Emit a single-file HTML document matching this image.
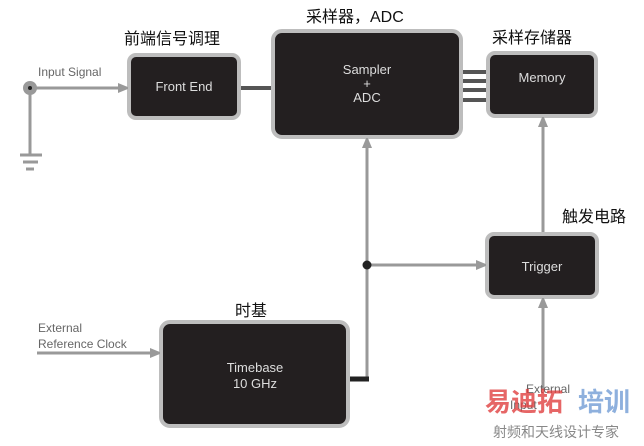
<!DOCTYPE html>
<html><head><meta charset="utf-8"><style>
body{margin:0;background:#fff;width:644px;height:441px;overflow:hidden}
svg text{font-family:"Liberation Sans","Noto Sans CJK SC",sans-serif}
</style></head><body>
<svg width="644" height="441" viewBox="0 0 644 441" xmlns="http://www.w3.org/2000/svg">
<defs><marker id="a" markerWidth="10" markerHeight="10" refX="9" refY="5" orient="auto" markerUnits="userSpaceOnUse"><path d="M0,0 L12,5 L0,10 z" fill="#999"/></marker></defs>
<g fill="#231f20" stroke="#bdbdbd" stroke-width="4">
<rect x="129" y="55" width="110" height="63" rx="7"/>
<rect x="273" y="31" width="188" height="106" rx="9"/>
<rect x="488" y="53" width="108" height="63" rx="7"/>
<rect x="487" y="234" width="110" height="63" rx="7"/>
<rect x="161" y="322" width="187" height="104" rx="9"/>
</g>
<g stroke="#555" stroke-width="4">
<line x1="241" y1="88" x2="271" y2="88"/>
<line x1="463" y1="72" x2="486" y2="72"/><line x1="463" y1="81" x2="486" y2="81"/>
<line x1="463" y1="90" x2="486" y2="90"/><line x1="463" y1="100" x2="486" y2="100"/>
</g>
<g stroke="#999" stroke-width="3" fill="none">
<line x1="30" y1="88" x2="127" y2="88" marker-end="url(#a)"/>
<line x1="30" y1="88" x2="30" y2="155"/>
<line x1="20" y1="155" x2="42" y2="155"/><line x1="23" y1="162" x2="38" y2="162"/><line x1="26" y1="169" x2="34" y2="169"/>
<line x1="367" y1="379" x2="367" y2="139" marker-end="url(#a)"/>
<line x1="367" y1="265" x2="485" y2="265" marker-end="url(#a)"/>
<line x1="37" y1="353" x2="159" y2="353" marker-end="url(#a)"/>
<line x1="543" y1="390" x2="543" y2="299" marker-end="url(#a)"/>
<line x1="543" y1="232" x2="543" y2="118" marker-end="url(#a)"/>
</g>
<line x1="350" y1="379" x2="369" y2="379" stroke="#222" stroke-width="5"/>
<circle cx="30" cy="88" r="7" fill="#999"/><circle cx="30" cy="88" r="2" fill="#222"/>
<circle cx="367" cy="265" r="4.5" fill="#222"/>
<g fill="#ddd" font-size="13" text-anchor="middle">
<text x="184" y="91">Front End</text>
<text x="367" y="74">Sampler</text><text x="367" y="88">+</text><text x="367" y="102">ADC</text>
<text x="542" y="82">Memory</text>
<text x="542" y="271">Trigger</text>
<text x="255" y="372">Timebase</text><text x="255" y="388">10 GHz</text>
</g>
<g fill="#666" font-size="12">
<text x="38" y="76">Input Signal</text>
<text x="38" y="332">External</text><text x="38" y="348">Reference Clock</text>
<text x="526" y="393">External</text><text x="510" y="409">Input</text>
</g>
<g fill="#111" font-size="16">
<text x="124" y="44">前端信号调理</text>
<text x="306" y="22">采样器，ADC</text>
<text x="492" y="43">采样存储器</text>
<text x="562" y="222">触发电路</text>
<text x="235" y="316">时基</text>
</g>
<text x="485" y="411" font-size="26" font-weight="bold" fill="#e04040" opacity="0.8">易迪拓</text>
<text x="578" y="411" font-size="26" font-weight="bold" fill="#5f8fd0" opacity="0.7">培训</text>
<text x="493" y="437" font-size="14" fill="#888">射频和天线设计专家</text>
</svg>
</body></html>
